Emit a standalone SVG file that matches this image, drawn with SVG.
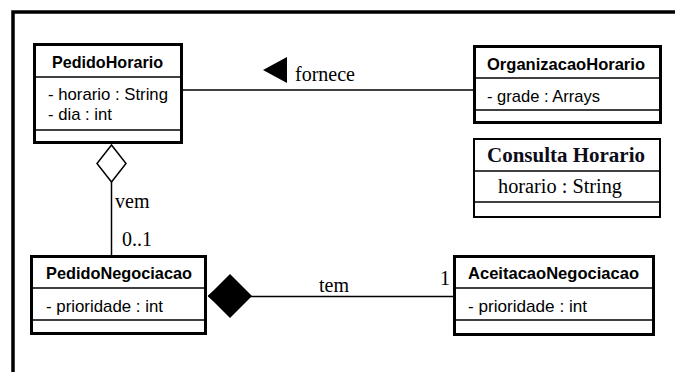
<svg xmlns="http://www.w3.org/2000/svg" width="675" height="372" viewBox="0 0 675 372">
  <style>
    .box { fill: #ffffff; stroke: #000000; stroke-width: 3; }
    .thin { fill: #ffffff; stroke: #000000; stroke-width: 2; }
    .div { stroke: #000000; stroke-width: 1.5; }
    .name { font-family: "Liberation Sans", Arial, sans-serif; font-weight: bold; font-size: 16.5px; fill: #000000; }
    .attr { font-family: "Liberation Sans", Arial, sans-serif; font-size: 17px; fill: #000000; }
    .lbl { font-family: "Liberation Serif", "Times New Roman", serif; font-size: 20px; fill: #000000; }
    .sname { font-family: "Liberation Serif", "Times New Roman", serif; font-weight: bold; font-size: 20px; fill: #0d0d1a; }
    .edge { stroke: #000000; stroke-width: 1.5; fill: none; }
  </style>
  <rect width="675" height="372" fill="#ffffff"/>

  <!-- diagram frame -->
  <path d="M13,372 V12 H675" fill="none" stroke="#000000" stroke-width="3.5"/>

  <!-- connectors -->
  <g id="connectors">
    <!-- PedidoHorario — OrganizacaoHorario : fornece -->
    <line class="edge" x1="183" y1="90" x2="473" y2="90"/>
    <polygon points="263,70 287,57 287,83" fill="#000000"/>
    <text class="lbl" x="295" y="81">fornece</text>

    <!-- PedidoHorario ◇— PedidoNegociacao : vem -->
    <line class="edge" x1="111.5" y1="182" x2="111.5" y2="255"/>
    <polygon points="111.5,145 126,163.5 111.5,182 97,163.5" fill="#ffffff" stroke="#000000" stroke-width="1.5"/>
    <text class="lbl" x="115" y="208">vem</text>
    <text class="lbl" x="122" y="246">0..1</text>

    <!-- PedidoNegociacao ◆— AceitacaoNegociacao : tem -->
    <line class="edge" x1="250" y1="296.5" x2="453" y2="296.5"/>
    <polygon points="230,274 252,296 230,318 208,296" fill="#000000"/>
    <polyline points="214,291 208,296 214,301" fill="none" stroke="#000000" stroke-width="1"/>
    <text class="lbl" x="319" y="292">tem</text>
    <text class="lbl" x="440" y="285">1</text>
  </g>

  <!-- PedidoHorario -->
  <g id="PedidoHorario">
    <rect class="box" x="34.5" y="44.5" width="147" height="98"/>
    <line class="div" x1="34.5" y1="77" x2="181.5" y2="77"/>
    <line class="div" x1="34.5" y1="130" x2="181.5" y2="130"/>
    <text class="name" x="52" y="68" textLength="111" lengthAdjust="spacingAndGlyphs">PedidoHorario</text>
    <text class="attr" x="48" y="100" textLength="120" lengthAdjust="spacingAndGlyphs">- horario : String</text>
    <text class="attr" x="48" y="120" textLength="64" lengthAdjust="spacingAndGlyphs">- dia : int</text>
  </g>

  <!-- OrganizacaoHorario -->
  <g id="OrganizacaoHorario">
    <rect class="box" x="474.5" y="46.5" width="186" height="76"/>
    <line class="div" x1="474.5" y1="78" x2="660.5" y2="78"/>
    <line class="div" x1="474.5" y1="110" x2="660.5" y2="110"/>
    <text class="name" x="487" y="70" textLength="158" lengthAdjust="spacingAndGlyphs">OrganizacaoHorario</text>
    <text class="attr" x="487" y="102" textLength="113" lengthAdjust="spacingAndGlyphs">- grade : Arrays</text>
  </g>

  <!-- Consulta Horario -->
  <g id="ConsultaHorario">
    <rect class="thin" x="474" y="139" width="186" height="78"/>
    <line class="div" x1="474" y1="171" x2="660" y2="171"/>
    <line class="div" x1="474" y1="202" x2="660" y2="202"/>
    <text class="sname" x="566" y="162" text-anchor="middle" textLength="158" lengthAdjust="spacingAndGlyphs">Consulta Horario</text>
    <text class="lbl" x="498" y="193" textLength="124" lengthAdjust="spacingAndGlyphs">horario : String</text>
  </g>

  <!-- PedidoNegociacao -->
  <g id="PedidoNegociacao">
    <rect class="box" x="31.5" y="256.5" width="174" height="77"/>
    <line class="div" x1="31.5" y1="288" x2="205.5" y2="288"/>
    <line class="div" x1="31.5" y1="320" x2="205.5" y2="320"/>
    <text class="name" x="46" y="279" textLength="146" lengthAdjust="spacingAndGlyphs">PedidoNegociacao</text>
    <text class="attr" x="46" y="312" textLength="117" lengthAdjust="spacingAndGlyphs">- prioridade : int</text>
  </g>

  <!-- AceitacaoNegociacao -->
  <g id="AceitacaoNegociacao">
    <rect class="box" x="454.5" y="256.5" width="199" height="78"/>
    <line class="div" x1="454.5" y1="288" x2="653.5" y2="288"/>
    <line class="div" x1="454.5" y1="320" x2="653.5" y2="320"/>
    <text class="name" x="468" y="279" textLength="171" lengthAdjust="spacingAndGlyphs">AceitacaoNegociacao</text>
    <text class="attr" x="468" y="312" textLength="119" lengthAdjust="spacingAndGlyphs">- prioridade : int</text>
  </g>
</svg>
